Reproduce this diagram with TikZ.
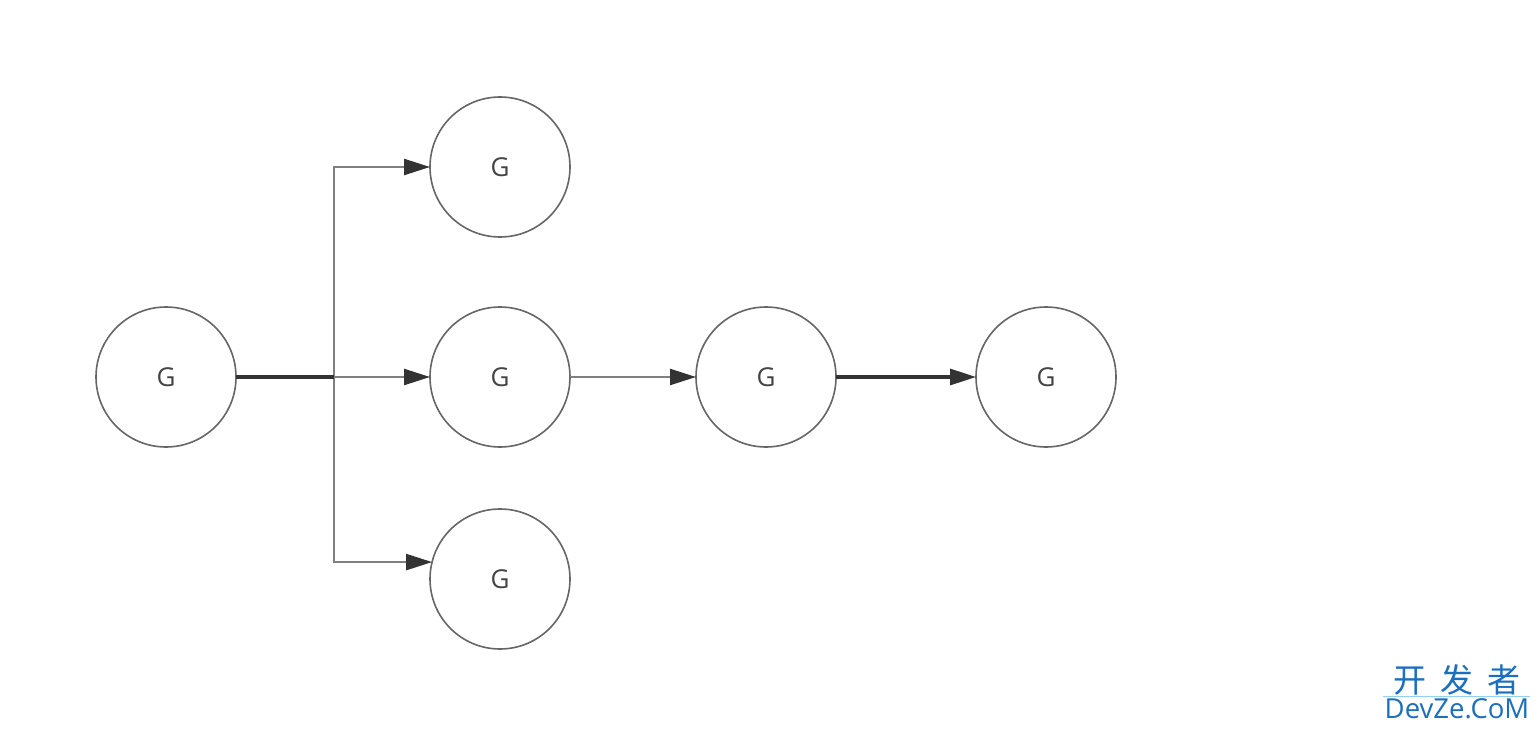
\documentclass[tikz,border=0pt]{standalone}
\usepackage{fontspec}
\setmainfont{Open Sans}
\newfontfamily\cjk{Noto Sans CJK SC}
\usetikzlibrary{arrows.meta}
\definecolor{ringc}{HTML}{666666}
\definecolor{thinc}{HTML}{808080}
\definecolor{darkc}{HTML}{333333}
\definecolor{txtc}{HTML}{444444}
\definecolor{wmblue}{HTML}{1A6FC0}
\definecolor{wmline}{HTML}{8FD3F0}
\begin{document}
\begin{tikzpicture}[x=1pt,y=-1pt,
  gnode/.style={circle,draw=ringc,line width=1.6pt,minimum size=140pt,inner sep=0pt,outer sep=0pt,
    font=\fontsize{26}{26}\selectfont,text=txtc},
  thinedge/.style={draw=thinc,line width=2.4pt},
  darkedge/.style={draw=darkc,line width=3.2pt},
  tip/.style={-{Triangle[length=26pt,width=16pt,color=darkc]}}]
\useasboundingbox[fill=white] (0,0) rectangle (1540,730);
\node[gnode] (L) at (166,377) {G};
\node[gnode] (T) at (500,167) {G};
\node[gnode] (M) at (500,377) {G};
\node[gnode] (B) at (500,579) {G};
\node[gnode] (C) at (766,377) {G};
\node[gnode] (R) at (1046,377) {G};
\coordinate (j) at (334,377);
\draw[thinedge,tip] (j) |- (T.west);
\draw[thinedge,tip] (j) |- (B.166);
\draw[thinedge,tip] (j) -- (M.west);
\draw[darkedge] (L.east) -- (j);
\draw[thinedge,tip] (M.east) -- (C.west);
\draw[darkedge,tip] (C.east) -- (R.west);
% watermark
\node[text=wmblue,font=\cjk\fontsize{33}{33}\selectfont,inner sep=0pt,anchor=center] (wm1) at (1457,680) {开\hspace{14pt}发\hspace{14pt}者};
\draw[wmline,line width=1pt] (1383,696) -- (1530,696);
\node[text=wmblue,font=\fontsize{27.5}{27.5}\selectfont,inner sep=0pt,anchor=center] (wm2) at (1457,709) {DevZe.CoM};
\end{tikzpicture}
\end{document}
